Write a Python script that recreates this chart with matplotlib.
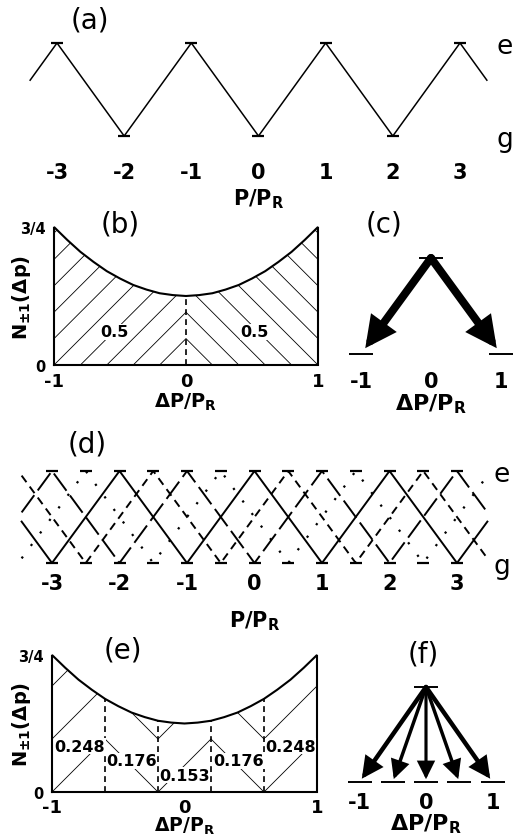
import numpy as np
import matplotlib
matplotlib.use("Agg")
import matplotlib.pyplot as plt

plt.rcParams['font.family'] = ['DejaVu Sans']
plt.rcParams['mathtext.fontset'] = 'custom'
plt.rcParams['mathtext.rm'] = 'DejaVu Sans:bold'
plt.rcParams['mathtext.it'] = 'DejaVu Sans:bold'
plt.rcParams['mathtext.bf'] = 'DejaVu Sans:bold'

# ---- data ----
p_ticks = [-3, -2, -1, 0, 1, 2, 3]

# (a) single zigzag: momentum P/P_R and internal level (1 = e, 0 = g)
a_p = [-3.4, -3, -2, -1, 0, 1, 2, 3, 3.4]
a_lvl = [0.6, 1, 0, 1, 0, 1, 0, 1, 0.6]

# (d) four interleaved zigzags
d_solid_p = [-3.45, -3, -2, -1, 0, 1, 2, 3, 3.45]
d_solid_lvl = [0.45, 0, 1, 0, 1, 0, 1, 0, 0.45]
d_long_p = [-3.45, -3, -2, -1, 0, 1, 2, 3, 3.45]
d_long_lvl = [0.55, 1, 0, 1, 0, 1, 0, 1, 0.55]
d_dash_p = [-3.45, -2.5, -1.5, -0.5, 0.5, 1.5, 2.5, 3.45]
d_dash_lvl = [0.95, 0, 1, 0, 1, 0, 1, 0.05]
d_dot_p = [-3.45, -2.5, -1.5, -0.5, 0.5, 1.5, 2.5, 3.45]
d_dot_lvl = [0.05, 1, 0, 1, 0, 1, 0, 0.95]
d_bar_p = [-3, -2.5, -2, -1.5, -1, -0.5, 0, 0.5, 1, 1.5, 2, 2.5, 3]

# recoil distribution N(dp) (panels b and e)
curve_x = [-1.0, -0.9, -0.8, -0.7, -0.6, -0.5, -0.4, -0.3, -0.2, -0.1, 0.0,
           0.1, 0.2, 0.3, 0.4, 0.5, 0.6, 0.7, 0.8, 0.9, 1.0]
curve_y = [0.75, 0.68, 0.615, 0.56, 0.51, 0.47, 0.435, 0.41, 0.39, 0.38, 0.375,
           0.38, 0.39, 0.41, 0.435, 0.47, 0.51, 0.56, 0.615, 0.68, 0.75]

b_bounds = [-1, 0, 1]
b_probs = [0.5, 0.5]
e_bounds = [-1, -0.6, -0.2, 0.2, 0.6, 1]
e_probs = [0.248, 0.176, 0.153, 0.176, 0.248]

c_final = [-1, 1]
f_final = [-1, -0.5, 0, 0.5, 1]

W, H = 519, 837
fig = plt.figure(figsize=(W / 100, H / 100), dpi=100)


def box(x0, x1, y0, y1):
    # axes placed by pixel box (origin top-left)
    ax = fig.add_axes([x0 / W, 1 - y1 / H, (x1 - x0) / W, (y1 - y0) / H])
    ax.set_facecolor('none')
    for s in ax.spines.values():
        s.set_visible(False)
    ax.tick_params(length=0)
    ax._pxbox = (x0, x1, y0, y1)
    return ax


def xlabel_at(ax, text, top_px, size):
    x0, x1, y0, y1 = ax._pxbox
    ax.set_xlabel(text, fontsize=size, fontweight='bold')
    ax.xaxis.set_label_coords(0.5, (y1 - top_px) / (y1 - y0))


def ftext(x, y, s, **kw):
    fig.text(x / W, 1 - y / H, s, ha='center', va='center', **kw)


def zigzag_panel(xm3, xp3, ye, yg):
    sc = (xp3 - xm3) / 6
    ax = box(xm3 - 0.5 * sc, xp3 + 0.5 * sc, ye, yg)
    ax.set_xlim(-3.5, 3.5)
    ax.set_ylim(0, 1)
    ax.set_xticks(p_ticks, [str(t) for t in p_ticks], fontsize=15, fontweight='bold')
    ax.yaxis.tick_right()
    ax.set_yticks([0, 1], ['g', 'e'], fontsize=19)
    ax.tick_params(axis='y', pad=2)
    return ax


# ---- (a) ----
ax_a = zigzag_panel(57, 460, 44, 137)
ax_a.plot(a_p, a_lvl, color='k', lw=1.1, clip_on=False)
ax_a.plot(a_p[1:-1], a_lvl[1:-1], ls='none', marker='_', ms=9, mew=1.6,
          color='k', clip_on=False)
ax_a.tick_params(axis='x', pad=19)
xlabel_at(ax_a, 'P/P$_\\mathrm{R}$', 187, 15)

# ---- (d) ----
ax_d = zigzag_panel(52, 457, 472, 564)
ax_d.plot(d_solid_p, d_solid_lvl, color='k', lw=1.4, clip_on=False)
ax_d.plot(d_long_p, d_long_lvl, color='k', lw=1.4, ls=(0, (11, 3)), clip_on=False)
ax_d.plot(d_dash_p, d_dash_lvl, color='k', lw=1.4, ls=(0, (4.2, 2.8)), clip_on=False)
ax_d.plot(d_dot_p, d_dot_lvl, color='k', lw=1.6, ls=(0, (1, 6)), clip_on=False)
for lvl in (0, 1):
    ax_d.plot(d_bar_p, [lvl] * len(d_bar_p), ls='none', marker='_', ms=9,
              mew=1.6, color='k', clip_on=False)
ax_d.tick_params(axis='x', pad=7)
xlabel_at(ax_d, 'P/P$_\\mathrm{R}$', 609, 15)


# ---- (b) and (e) ----
cx = np.array(curve_x)
cy = np.array(curve_y)


def hatch_strip(ax, lo, hi, direction, spacing, offset, k):
    m = (cx >= lo - 1e-9) & (cx <= hi + 1e-9)
    poly = ax.fill_between(cx[m], 0, cy[m], facecolor='none', edgecolor='none')
    clip = poly.get_paths()[0]
    for c in offset + spacing * np.arange(-12, 13):
        if direction == '/':
            xs = np.array([c, c + 3])
            ys = k * (xs - c)
        else:
            xs = np.array([c - 3, c])
            ys = k * (c - xs)
        ln, = ax.plot(xs, ys, color='k', lw=0.6)
        ln.set_clip_path(clip, ax.transData)


def dist_panel(x0, x1, y0, y1, bounds, probs, spacing, offset, lab_x, lab_y, pad):
    ax = box(x0, x1, y0, y1)
    ax.set_xlim(-1, 1)
    ax.set_ylim(0, 0.75)
    k = (0.75 / (y1 - y0)) / (2 / (x1 - x0))
    ax.plot(np.r_[-1, cx, 1, -1], np.r_[0, cy, 0, 0], color='k', lw=1.5,
            clip_on=False, solid_joinstyle='miter')
    for i in range(len(bounds) - 1):
        hatch_strip(ax, bounds[i], bounds[i + 1], '/' if i % 2 == 0 else '\\',
                    spacing, offset, k)
    inner = np.array(bounds[1:-1])
    ax.vlines(inner, 0, np.interp(inner, cx, cy), color='k', lw=1.2,
              linestyles=(0, (3.5, 2.5)))
    fmt = '{:.1f}' if len(probs) == 2 else '{:.3f}'
    for x, y, v in zip(lab_x, lab_y, probs):
        ax.text(x, y, fmt.format(v), ha='center', va='center', fontsize=11.5,
                fontweight='bold',
                bbox=dict(facecolor='white', edgecolor='none', pad=0.4))
    ax.set_xticks([-1, 0, 1], ['-1', '0', '1'], fontsize=13, fontweight='bold')
    ax.set_yticks([0, 0.75], ['0', '3/4'], fontsize=10.5, fontweight='bold')
    ax.tick_params(axis='x', pad=pad)
    ax.tick_params(axis='y', pad=6)
    ax.set_ylabel('N$_{\\pm1}$($\\Delta$p)', fontsize=14, fontweight='bold')
    ax.yaxis.set_label_coords((33 - x0) / (x1 - x0), 0.5)
    return ax


ax_b = dist_panel(54, 318, 228, 366, b_bounds, b_probs, 0.2, 0.0,
                  [-0.54, 0.52], [0.18, 0.18], 5)
xlabel_at(ax_b, '$\\Delta$P/P$_\\mathrm{R}$', 392, 14)
ax_e = dist_panel(52, 317, 656, 793, e_bounds, e_probs, 0.4, -0.2,
                  [-0.79, -0.40, 0.0, 0.41, 0.80], [0.25, 0.17, 0.093, 0.17, 0.25], 4)
xlabel_at(ax_e, '$\\Delta$P/P$_\\mathrm{R}$', 816, 13.5)


# ---- (c) and (f) ----
def arrow_panel(xc, sc, ytop, ybot, finals, probs, pad):
    ax = box(xc - 1.25 * sc, xc + 1.25 * sc, ytop, ybot)
    ax.set_xlim(-1.25, 1.25)
    ax.set_ylim(0, 1)
    ax.plot([0], [1], ls='none', marker='_', ms=17, mew=1.4, color='k', clip_on=False)
    ax.plot(finals, [0] * len(finals), ls='none', marker='_', ms=17, mew=1.4,
            color='k', clip_on=False)
    for p, w in zip(finals, probs):
        lw = (1.0 + 14 * w) / 1.389
        hl = 8 + 11 * w
        ax.annotate('', xy=(p, 0), xytext=(0, 1), annotation_clip=False,
                    arrowprops=dict(arrowstyle='-|>,head_length=%.1f,head_width=%.1f'
                                    % (hl, hl * 0.5),
                                    mutation_scale=1, lw=lw, color='k',
                                    shrinkA=0, shrinkB=lw * 0.9,
                                    joinstyle='miter'))
    ax.set_xticks([-1, 0, 1], ['-1', '0', '1'], fontsize=15, fontweight='bold')
    ax.set_yticks([])
    ax.tick_params(axis='x', pad=pad)
    return ax


ax_c = arrow_panel(431, 70, 259, 355, c_final, b_probs, 12)
xlabel_at(ax_c, '$\\Delta$P/P$_\\mathrm{R}$', 392, 16)
ax_f = arrow_panel(426, 66.5, 688, 783, f_final, e_probs, 7)
xlabel_at(ax_f, '$\\Delta$P/P$_\\mathrm{R}$', 812, 16)

# panel letters
ftext(90, 20, '(a)', fontsize=20)
ftext(120, 225, '(b)', fontsize=20)
ftext(384, 225, '(c)', fontsize=20)
ftext(87, 445, '(d)', fontsize=20)
ftext(123, 651, '(e)', fontsize=20)
ftext(423, 654, '(f)', fontsize=20)

fig.savefig('out.png', dpi=100)
